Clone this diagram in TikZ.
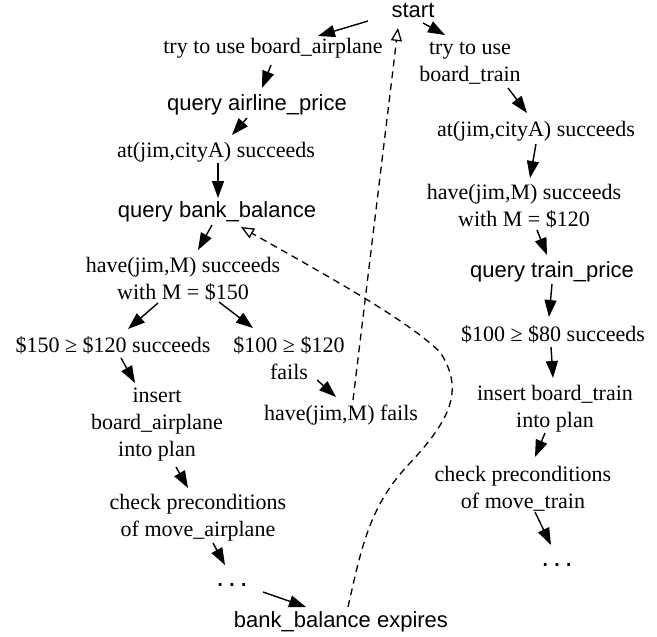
\documentclass[tikz,border=0pt]{standalone}
\usepackage{fontspec}
\setmainfont{Liberation Serif}
\setsansfont{Liberation Sans}
\usetikzlibrary{arrows.meta,calc}
\begin{document}
\begin{tikzpicture}[x=1pt,y=-1pt,
  lbl/.style={inner sep=0pt,align=center,font=\fontsize{22}{27}\selectfont},
  slbl/.style={inner sep=0pt,align=center,font=\fontsize{22}{27}\selectfont\sffamily},
  dots/.style={inner sep=0pt,font=\fontsize{28}{30}\selectfont\sffamily},
  arr/.style={line width=1.4pt,-{Triangle[length=17pt,width=12pt]}},
  dsh/.style={line width=1.3pt,dash pattern=on 7pt off 5pt,-{Triangle[open,length=13pt,width=11pt,line width=1.3pt]}}]
\path[use as bounding box] (0,0) rectangle (657,637);
% left branch
\node[slbl] (start) at (413,10) {start};
\node[lbl] (tryA) at (273,48) {try to use board\_airplane};
\node[lbl] (tryT) at (470,63) {try to use\\board\_train};
\node[slbl] (qap) at (257,105) {query airline\_price};
\node[lbl] (atL) at (216,152) {at(jim,cityA) succeeds};
\node[slbl] (qbb) at (217,212) {query bank\_balance};
\node[lbl] (haveL) at (183,279) {have(jim,M) succeeds\\with M = \$150};
\node[lbl] (s150) at (113,345) {\$150 ≥ \$120 succeeds};
\node[lbl] (s100) at (289,358) {\$100 ≥ \$120\\fails};
\node[lbl] (ins) at (157,425) {insert\\board\_airplane\\into plan};
\node[lbl] (hf) at (341,415) {have(jim,M) fails};
\node[lbl] (chkL) at (198,518) {check preconditions\\of move\_airplane};
\node[dots] (dotsL) at (232,585) {.\kern4pt.\kern4pt.};
\node[slbl] (bbe) at (341,622) {bank\_balance expires};
% right branch
\node[lbl] (atR) at (536,131) {at(jim,cityA) succeeds};
\node[lbl] (haveR) at (524,206) {have(jim,M) succeeds\\with M = \$120};
\node[slbl] (qtp) at (552,272) {query train\_price};
\node[lbl] (s80) at (553,334) {\$100 ≥ \$80 succeeds};
\node[lbl] (insT) at (555,409) {insert board\_train\\into plan};
\node[lbl] (chkR) at (523,489) {check preconditions\\of move\_train};
\node[dots] (dotsR) at (557,565) {.\kern4pt.\kern4pt.};
% solid arrows
\draw[arr] ($(start)+(-45,11)$) -- ($(tryA)+(45,-12)$);
\draw[arr] ($(start)+(10,13)$) -- ($(tryT)+(-25,-28)$);
\draw[arr] ($(tryA)+(-2,17)$) -- ($(qap)+(5,-17)$);
\draw[arr] ($(qap)+(-10,13)$) -- ($(atL)+(16,-17)$);
\draw[arr] ($(atL)+(2,11)$) -- ($(qbb)+(1,-14)$);
\draw[arr] ($(qbb)+(-5,13)$) -- ($(haveL)+(15,-29)$);
\draw[arr] ($(haveL)+(-25,24)$) -- ($(s150)+(15,-16)$);
\draw[arr] ($(haveL)+(36,23)$) -- ($(s100)+(-36,-30)$);
\draw[arr] ($(s150)+(8,13)$) -- ($(ins)+(-22,-42)$);
\draw[arr] ($(s100)+(28,22)$) -- ($(hf)+(-5,-18)$);
\draw[arr] ($(ins)+(19,42)$) -- ($(chkL)+(-10,-30)$);
\draw[arr] ($(chkL)+(15,25)$) -- ($(dotsL)+(-7,-20)$);
\draw[arr] ($(dotsL)+(31,7)$) -- ($(bbe)+(-35,-15)$);
\draw[arr] ($(tryT)+(38,25)$) -- ($(atR)+(-9,-18)$);
\draw[arr] ($(atR)+(0,13)$) -- ($(haveR)+(6,-28)$);
\draw[arr] ($(haveR)+(13,24)$) -- ($(qtp)+(-5,-17)$);
\draw[arr] ($(qtp)+(0,12)$) -- ($(s80)+(-4,-17)$);
\draw[arr] ($(s80)+(-2,13)$) -- ($(insT)+(-2,-31)$);
\draw[arr] ($(insT)+(-10,24)$) -- ($(chkR)+(12,-32)$);
\draw[arr] ($(chkR)+(12,23)$) -- ($(dotsR)+(-6,-20)$);
% dashed backtracking
\draw[dsh] ($(hf)+(12,-15)$) -- ($(start)+(-15,18)$);
\draw[dsh] ($(bbe)+(7,-15)$) .. controls (362,545) and (370,505) .. (410,463)
  .. controls (450,420) and (465,390) .. (440,352)
  .. controls (405,318) and (320,272) .. ($(qbb)+(24,15)$);
\end{tikzpicture}
\end{document}
